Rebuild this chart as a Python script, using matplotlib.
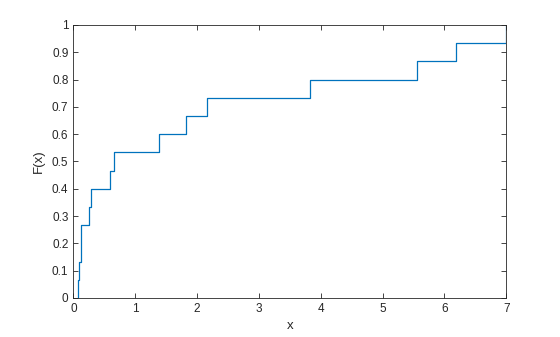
import numpy as np
import matplotlib.pyplot as plt

plt.rcParams['font.family'] = ['Liberation Sans', 'DejaVu Sans']

# sample values
samples = [0.07, 0.086, 0.12, 0.12, 0.26, 0.28, 0.60, 0.65, 1.38, 1.82,
           2.16, 3.83, 5.55, 6.19, 7.0]
xticks = [0, 1, 2, 3, 4, 5, 6, 7]
yticks = [0, 0.1, 0.2, 0.3, 0.4, 0.5, 0.6, 0.7, 0.8, 0.9, 1]
yticklabels = ['0', '0.1', '0.2', '0.3', '0.4', '0.5', '0.6', '0.7', '0.8', '0.9', '1']

x = np.sort(np.array(samples))
n = len(x)
xs = np.concatenate([[x[0]], x])
ys = np.concatenate([[0], np.arange(1, n + 1) / n])

fig = plt.figure(figsize=(5.6, 3.37), dpi=100)
ax = fig.add_axes([0.131, 0.116, 0.773, 0.810])
ax.plot(xs, ys, drawstyle='steps-post', color='#0072BD', lw=0.9)

ax.set_xlim(0, 7)
ax.set_ylim(0, 1)
ax.set_xticks(xticks)
ax.set_yticks(yticks)
ax.set_yticklabels(yticklabels)
ax.tick_params(direction='in', top=True, right=True, length=3.5, width=0.6,
               labelsize=8.5, colors='#262626', pad=3.5)
for s in ax.spines.values():
    s.set_linewidth(0.6)
    s.set_color('#262626')
ax.set_xlabel('x', fontsize=9.5, color='#262626', labelpad=4)
ax.set_ylabel('F(x)', fontsize=9.5, color='#262626', labelpad=5)

fig.savefig('out.png', dpi=100)
